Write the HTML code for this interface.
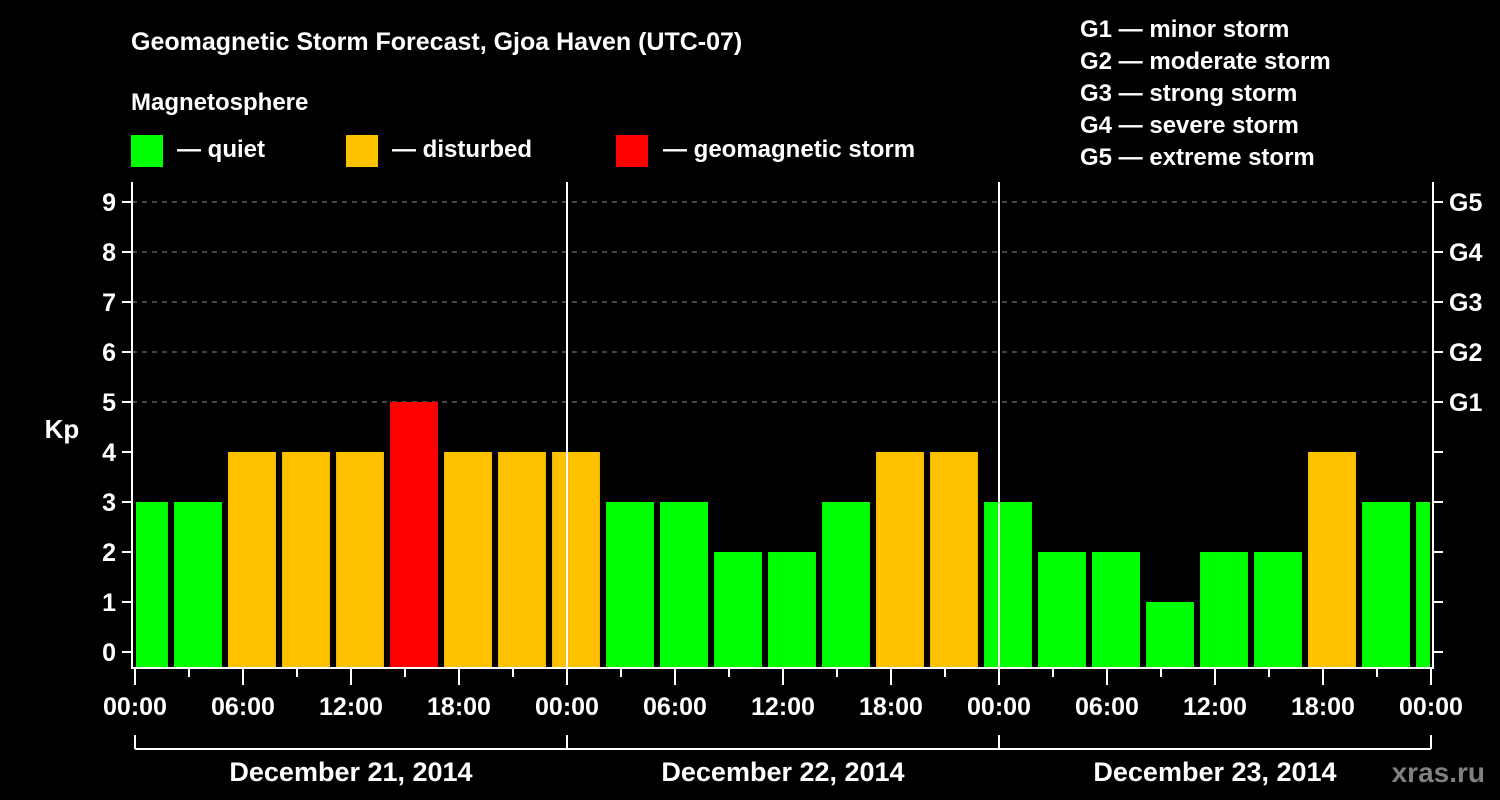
<!DOCTYPE html>
<html><head><meta charset="utf-8"><style>
html,body{margin:0;padding:0;background:#000;}
svg{display:block;font-family:"Liberation Sans",Arial,sans-serif;font-weight:bold;}
</style></head><body>
<svg id="chart" width="1500" height="800" viewBox="0 0 1500 800">
<rect width="1500" height="800" fill="#000"/>
<text x="131" y="50" fill="#fff" font-size="25">Geomagnetic Storm Forecast, Gjoa Haven (UTC-07)</text>
<text x="131" y="110" fill="#fff" font-size="24">Magnetosphere</text>
<g><rect x="131" y="135" width="32" height="32" fill="#00ff00"/><text x="177" y="157" fill="#fff" font-size="24">— quiet</text></g>
<g><rect x="346" y="135" width="32" height="32" fill="#ffc000"/><text x="392" y="157" fill="#fff" font-size="24">— disturbed</text></g>
<g><rect x="616" y="135" width="32" height="32" fill="#ff0000"/><text x="663" y="157" fill="#fff" font-size="24">— geomagnetic storm</text></g>
<g fill="#fff" font-size="24">
<text x="1080" y="37">G1 — minor storm</text>
<text x="1080" y="69">G2 — moderate storm</text>
<text x="1080" y="101">G3 — strong storm</text>
<text x="1080" y="133">G4 — severe storm</text>
<text x="1080" y="165">G5 — extreme storm</text>
</g>
<text x="62" y="438" fill="#fff" font-size="26" text-anchor="middle">Kp</text>
<text x="1485" y="782" fill="#808080" font-size="28" text-anchor="end">xras.ru</text>
<g id="plot"></g>
</svg>
<script>
const kpValues = [3,3,4,4,4,5,4,4,4,3,3,2,2,3,4,4,3,2,2,1,2,2,4,3,3];
const yTicks = [0,1,2,3,4,5,6,7,8,9];
const gLabels = ["G1","G2","G3","G4","G5"];
const xTickLabels = ["00:00","06:00","12:00","18:00","00:00","06:00","12:00","18:00","00:00","06:00","12:00","18:00","00:00"];
const dayLabels = ["December 21, 2014","December 22, 2014","December 23, 2014"];

const NS = "http://www.w3.org/2000/svg";
const L = 132, R = 1433, T = 182, B = 668;
const x = h => 135 + h * 18;
const y = v => 652 - v * 50;
const g = document.getElementById('plot');
function mk(tag, attrs, parent) {
  const e = document.createElementNS(NS, tag);
  for (const k in attrs) e.setAttribute(k, attrs[k]);
  (parent || g).appendChild(e);
  return e;
}
function color(v){ return v >= 5 ? "#ff0000" : (v >= 4 ? "#ffc000" : "#00ff00"); }

// gridlines
yTicks.forEach(v => {
  if (v >= 5) {
    const ln = mk('line', {x1:L, x2:R, y1:y(v), y2:y(v), stroke:"#888", "stroke-width":1, "stroke-dasharray":"5,5"});
    
    
  }
});
// bars
kpValues.forEach((v, k) => {
  let x0 = Math.max(x(3*k - 0.83), L + 4);
  let x1 = Math.min(x(3*k + 1.83), R - 3);
  const r = mk('rect', {x:x0, y:y(v), width:x1 - x0, height:B - y(v), fill:color(v)});
  
  
});
// day separators
[1,2].forEach(d => {
  const ln = mk('line', {x1:x(24*d), x2:x(24*d), y1:T, y2:B, stroke:"#fff", "stroke-width":2});
  
  
});
// frame
const fr = mk('path', {d:`M${L},${T} V${B} H${R} V${T}`, fill:"none", stroke:"#fff", "stroke-width":2});


// y ticks
yTicks.forEach(v => {
  mk('line', {x1:L - 10, x2:L, y1:y(v), y2:y(v), stroke:"#fff", "stroke-width":2});
  mk('line', {x1:R, x2:R + 10, y1:y(v), y2:y(v), stroke:"#fff", "stroke-width":2});
  const t = mk('text', {x:L - 16, y:y(v) + 9, fill:"#fff", "font-size":25, "text-anchor":"end"});
  t.textContent = v;
  
  
});
gLabels.forEach((s, i) => {
  const t = mk('text', {x:R + 16, y:y(5 + i) + 9, fill:"#fff", "font-size":25});
  t.textContent = s;
  
  
});
// x ticks
for (let h = 0; h <= 72; h += 3) {
  const major = h % 6 === 0;
  mk('line', {x1:x(h), x2:x(h), y1:B, y2:B + (major ? 17 : 9), stroke:"#fff", "stroke-width":2});
}
xTickLabels.forEach((s, i) => {
  const t = mk('text', {x:x(6*i), y:715, fill:"#fff", "font-size":25, "text-anchor":"middle"});
  t.textContent = s;
  
  
});
// day bracket
mk('line', {x1:x(0), x2:x(72), y1:749, y2:749, stroke:"#fff", "stroke-width":2});
for (let d = 0; d <= 3; d++) mk('line', {x1:x(24*d), x2:x(24*d), y1:735, y2:749, stroke:"#fff", "stroke-width":2});
dayLabels.forEach((s, i) => {
  const t = mk('text', {x:x(24*i + 12), y:781, fill:"#fff", "font-size":27, "text-anchor":"middle"});
  t.textContent = s;
  
  
});
</script>
</body></html>
